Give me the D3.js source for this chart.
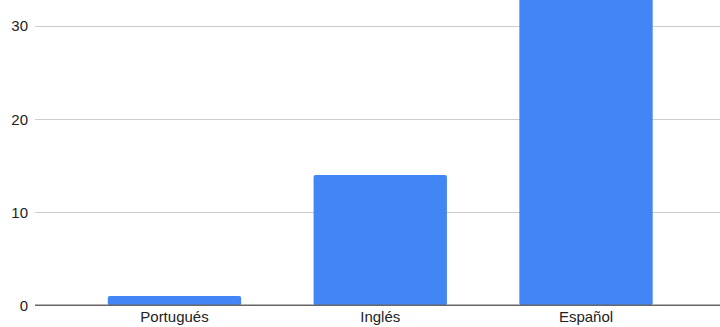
<!DOCTYPE html>
<html>
<head>
<meta charset="utf-8">
<script src="https://cdn.jsdelivr.net/npm/d3@7"></script>
<style>
  html, body { margin: 0; padding: 0; background: #fff; overflow: hidden; }
  svg { display: block; }
  text { font-family: Arial, "Liberation Sans", sans-serif; fill: #222; }
</style>
</head>
<body>
<svg id="chart" width="720" height="327"></svg>
<script>
const categories = ["Portugués", "Inglés", "Español"];
const values = [1, 14, 36];
const yTicks = [0, 10, 20, 30];

const svg = d3.select("#chart");
const W = 720, H = 327;
const plotLeft = 35, plotRight = 720;
const y0 = 305.3, pxPerUnit = 9.31;

const y = d3.scaleLinear().domain([0, 40]).range([y0, y0 - 40 * pxPerUnit]);
const x = d3.scaleBand().domain(categories).range([71.6, 688.9]).paddingInner(0.352).paddingOuter(0.176);

// gridlines
svg.append("g").selectAll("line").data(yTicks.filter(d => d !== 0)).join("line")
  .attr("x1", plotLeft).attr("x2", plotRight)
  .attr("y1", d => Math.round(y(d)) + 0.5).attr("y2", d => Math.round(y(d)) + 0.5)
  .attr("stroke", "#cccccc").attr("stroke-width", 1);

// y labels
svg.append("g").selectAll("text").data(yTicks).join("text")
  .attr("x", 28).attr("y", d => y(d))
  .attr("dy", "0.36em")
  .attr("text-anchor", "end")
  .attr("font-size", 15)
  .text(d => d);

// bars
svg.append("g").selectAll("rect").data(values).join("rect")
  .attr("x", (d, i) => x(categories[i]))
  .attr("width", x.bandwidth())
  .attr("y", d => y(d))
  .attr("height", d => y(0) - y(d))
  .attr("rx", 2)
  .attr("fill", "#4285f4");

// baseline
svg.append("line")
  .attr("x1", plotLeft).attr("x2", plotRight)
  .attr("y1", y(0)).attr("y2", y(0))
  .attr("stroke", "#666").attr("stroke-width", 1.5);

// x labels
svg.append("g").selectAll("text").data(categories).join("text")
  .attr("x", d => x(d) + x.bandwidth() / 2)
  .attr("y", 321.5)
  .attr("text-anchor", "middle")
  .attr("font-size", 15)
  .text(d => d);
</script>
</body>
</html>
